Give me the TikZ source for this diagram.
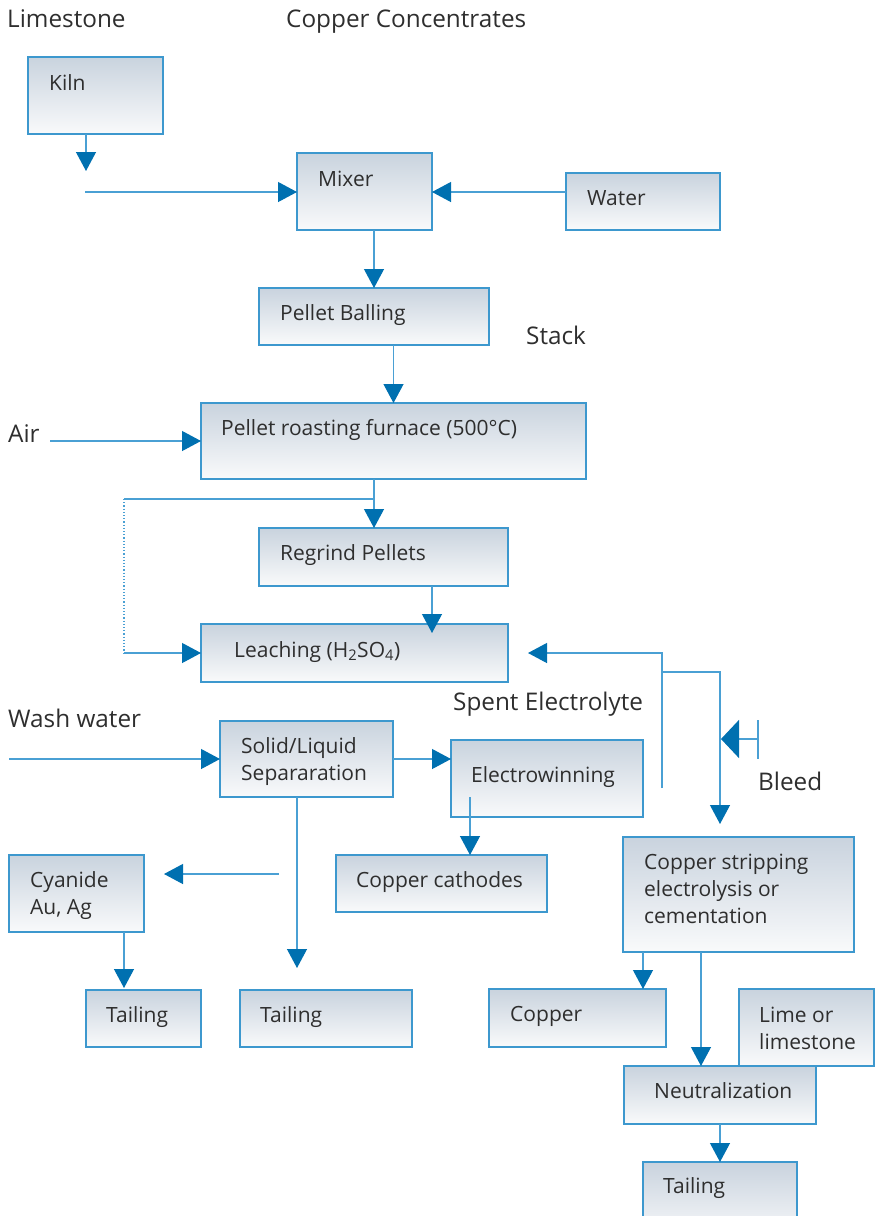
\documentclass[tikz,border=0pt]{standalone}
\usepackage{fontspec}
\setmainfont{Open Sans}
\usetikzlibrary{arrows.meta}
\definecolor{bx}{HTML}{3D98CE}
\definecolor{ln}{HTML}{4AA0D4}
\definecolor{hd}{HTML}{0070B0}
\definecolor{tx}{HTML}{2E2E2E}
\definecolor{gtop}{HTML}{C9D3DE}
\definecolor{gbot}{HTML}{F9FAFB}
\tikzset{
  pboxst/.style={draw=bx, line width=1.2pt, top color=gtop, bottom color=gbot, inner sep=0pt, outer sep=0pt, anchor=north west},
  ptext/.style={font=\fontsize{21}{27}\selectfont, text=tx, inner sep=0pt, align=left, anchor=base west},
  lbl/.style={font=\fontsize{24.3}{28}\selectfont, text=tx, inner sep=0pt, anchor=base west},
  conn/.style={draw=ln, line width=1.2pt},
  arr/.style={-{Triangle[length=19pt,width=20pt,color=hd]}},
  bleedarr/.style={-{Triangle[length=18pt,width=38pt,color=hd]}}
}
% #6 = x inset, #7 = baseline of the LAST line below the box top
\newcommand\pbox[8]{%
  \node[pboxst, minimum width=#4-#2, minimum height=#5-#3] (#1) at (#2,#3) {};
  \node[ptext] (#1t) at ([xshift=#6pt, yshift=-#7pt]#1.north west) {#8};
}
\begin{document}
\begin{tikzpicture}[x=1pt,y=-1pt]
\useasboundingbox (0,0) rectangle (875,1216);
\clip (0,0) rectangle (875,1216);
% labels
\node[lbl] (limestone) at (7,27) {Limestone};
\node[lbl] (concentrates) at (286,27) {Copper Concentrates};
\node[lbl] (stack) at (526,344) {Stack};
\node[lbl] (air) at (8,442) {Air};
\node[lbl] (spent) at (453,710) {Spent Electrolyte};
\node[lbl] (wash) at (8,727) {Wash water};
\node[lbl] (bleed) at (758,790) {Bleed};
% boxes
\pbox{Kiln}{28}{57}{163}{134}{21}{33}{Kiln}
\pbox{Mixer}{297}{153}{432}{230}{21}{33}{Mixer}
\pbox{Water}{566}{173}{720}{230}{21}{32}{Water}
\pbox{PB}{259}{288}{489}{345}{21}{32}{Pellet Balling}
\pbox{Furn}{201}{403}{586}{479}{20}{32}{Pellet roasting furnace (500°C)}
\pbox{Regrind}{259}{528}{508}{586}{21}{32}{Regrind Pellets}
\pbox{Leach}{201}{624}{508}{682}{33}{33}{Leaching (H\textsubscript{2}SO\textsubscript{4})}
\pbox{SL}{220}{721}{393}{797}{21}{59}{Solid/Liquid\\Separaration}
\pbox{EW}{451}{740}{643}{817}{20}{42}{Electrowinning}
\pbox{CC}{336}{855}{547}{912}{20}{32}{Copper cathodes}
\pbox{Cyan}{9}{855}{144}{932}{21}{59}{Cyanide\\Au, Ag}
\pbox{TA}{86}{990}{201}{1047}{20}{32}{Tailing}
\pbox{TB}{240}{990}{412}{1047}{20}{32}{Tailing}
\pbox{CS}{623}{837}{854}{952}{21}{86}{Copper stripping\\electrolysis or\\cementation}
\pbox{Copper}{489}{989}{666}{1047}{21}{32}{Copper}
\pbox{Lime}{739}{989}{874}{1066}{20}{60}{Lime or\\limestone}
\pbox{Neut}{624}{1066}{816}{1124}{30}{32}{Neutralization}
\pbox{TC}{643}{1162}{797}{1240}{20}{31}{Tailing}
% connectors
\coordinate (k1) at (86,171);
\draw[conn,arr] (Kiln.south -| k1) -- (k1);
\coordinate (m1) at (85,192);
\draw[conn,arr] (m1) -- (m1 -| Mixer.west);
\draw[conn,arr] (Water.west |- m1) -- (m1 -| Mixer.east);
\draw[conn,arr] (Mixer.south -| PB.north) -- (PB.north);
\draw[conn,arr] (PB.south -| Furn.north) -- (Furn.north);
\coordinate (a1) at (50,441);
\draw[conn,arr] (a1) -- (a1 -| Furn.west);
\coordinate (j1) at (374,499);
\coordinate (j2) at (124,499);
\coordinate (j3) at (124,653);
\draw[conn] (Furn.south -| j1) -- (j1);
\draw[conn,arr] (j1) -- (j1 |- Regrind.north);
\draw[conn] (j1) -- (j2);
\draw[conn,dotted] (j2) -- (j3);
\draw[conn,arr] (j3) -- (j3 -| Leach.west);
\coordinate (r1) at (432,633);
\draw[conn,arr] (Regrind.south -| r1) -- (r1);
\coordinate (s1) at (662,653);
\coordinate (s3) at (662,788);
\draw[conn,arr] (s3) -- (s1) -- ([xshift=20pt]s1 -| Leach.east);
\coordinate (b1) at (662,672);
\coordinate (b2) at (720,672);
\coordinate (b3) at (720,824);
\draw[conn,arr] (b1) -- (b2) -- (b3);
\coordinate (bl1) at (758,739);
\coordinate (bl0) at (721,739);
\draw[conn,bleedarr] (bl1) -- (bl0);
\coordinate (bt) at (758,720);
\coordinate (bb) at (758,759);
\draw[conn] (bt) -- (bb);
\coordinate (w1) at (9,759);
\draw[conn,arr] (w1) -- (w1 -| SL.west);
\draw[conn,arr] (w1 -| SL.east) -- (w1 -| EW.west);
\coordinate (e1) at (470,797);
\draw[conn,arr] (e1) -- (e1 |- CC.north);
\coordinate (sl1) at (297,968);
\draw[conn,arr] (SL.south -| sl1) -- (sl1);
\coordinate (cy1) at (279,874);
\coordinate (cy2) at (164,874);
\draw[conn,arr] (cy1) -- (cy2);
\coordinate (cy3) at (124,988);
\draw[conn,arr] (Cyan.south -| cy3) -- (cy3);
\coordinate (cs1) at (643,989);
\draw[conn,arr] (CS.south -| cs1) -- (cs1);
\coordinate (cs2) at (701,1066);
\draw[conn,arr] (CS.south -| cs2) -- (cs2);
\draw[conn,arr] (Neut.south) -- (TC.north);
\end{tikzpicture}
\end{document}
